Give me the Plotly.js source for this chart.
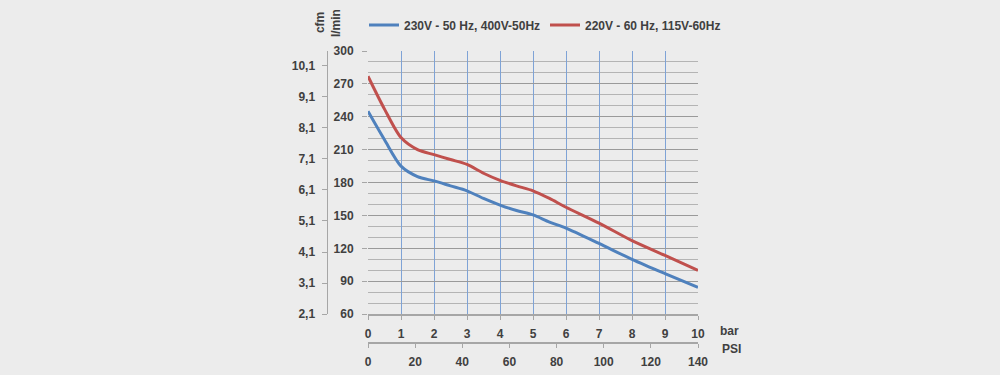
<!DOCTYPE html>
<html>
<head>
<meta charset="utf-8">
<script src="https://cdn.plot.ly/plotly-3.0.1.min.js"></script>
<style>
  html, body { margin: 0; padding: 0; background: #ececec; }
  #chart { width: 1000px; height: 375px; }
</style>
</head>
<body>
<div id="chart"></div>
<script>
// Pressure (bar)
const pressureBar = [0, 0.5, 1, 1.5, 2, 2.5, 3, 3.5, 4, 4.5, 5, 5.5, 6, 7, 8, 9, 10];
// Flow l/min, 230V - 50 Hz, 400V-50Hz
const flow50Hz = [245, 219, 195, 185.5, 181.5, 177, 172.5, 165.5, 159.5, 154.5, 150.5, 144, 138.5, 124.5, 110, 97, 84.5];
// Flow l/min, 220V - 60 Hz, 115V-60Hz
const flow60Hz = [277, 247, 221, 210, 205.5, 201, 196.5, 188.5, 182, 177, 172.5, 165.5, 157.5, 143, 127, 113.5, 100];

const seriesNames = ["230V - 50 Hz, 400V-50Hz", "220V - 60 Hz, 115V-60Hz"];

const barTicks = [0, 1, 2, 3, 4, 5, 6, 7, 8, 9, 10];
const psiTicks = [0, 20, 40, 60, 80, 100, 120, 140];
const lminTicks = [60, 90, 120, 150, 180, 210, 240, 270, 300];
const cfmTickVals = [2.1, 3.1, 4.1, 5.1, 6.1, 7.1, 8.1, 9.1, 10.1];
const cfmTickText = ["2,1", "3,1", "4,1", "5,1", "6,1", "7,1", "8,1", "9,1", "10,1"];
const LMIN_PER_CFM = 28.317;

const txt = "#404040";
const F = "Liberation Sans, Arial, sans-serif";
const tickFont = {family: F, size: 12, color: txt, weight: "bold"};

const traces = [
  {x: pressureBar, y: flow50Hz, name: seriesNames[0], type: "scatter", mode: "lines",
   line: {color: "#4f81bd", width: 3, shape: "spline", smoothing: 0.8}, xaxis: "x", yaxis: "y"},
  {x: pressureBar, y: flow60Hz, name: seriesNames[1], type: "scatter", mode: "lines",
   line: {color: "#c0504d", width: 3, shape: "spline", smoothing: 0.8}, xaxis: "x", yaxis: "y"},
  // carriers so the secondary scales (cfm, PSI) get their own axes
  {x: [0, 1], y: [cfmTickVals[0], cfmTickVals[cfmTickVals.length-1]],
   xaxis: "x3", yaxis: "y2", mode: "lines", opacity: 0, showlegend: false, hoverinfo: "skip"},
  {x: [psiTicks[0], psiTicks[psiTicks.length-1]], y: [0, 1],
   xaxis: "x2", yaxis: "y3", mode: "lines", opacity: 0, showlegend: false, hoverinfo: "skip"}
];

const L = 250, R = 300, T = 50, B = 20, W = 1000, H = 375;
const pw = W - L - R, ph = H - T - B;
const px = v => (v - L) / pw;
const py = v => (H - B - v) / ph;
const PLOT_LEFT = 368, PLOT_RIGHT = 698, PLOT_BOTTOM = 314;
const CFM_LINE = 328, PSI_LINE = 342;

const hidden = {visible: false, fixedrange: true, showgrid: false, zeroline: false};

const layout = {
  width: W, height: H,
  paper_bgcolor: "#ececec", plot_bgcolor: "#ececec",
  margin: {l: L, r: R, t: T, b: B, pad: 0},
  showlegend: true,
  legend: {orientation: "h", x: px(364), xanchor: "left", y: 1 + (T - 25) / ph, yanchor: "middle",
           font: {family: F, size: 12, color: txt, weight: "bold"}, bgcolor: "rgba(0,0,0,0)",
           entrywidth: 136, entrywidthmode: "pixels", itemwidth: 30},
  xaxis: {domain: [px(PLOT_LEFT), px(PLOT_RIGHT)], range: [0, 10], tickmode: "array", tickvals: barTicks, ticktext: barTicks.map(String),
          showgrid: true, gridcolor: "#7fa3d6", gridwidth: 1, zeroline: false,
          showline: true, linecolor: "#a6a6a6", linewidth: 1.5,
          ticks: "outside", ticklen: 4, tickcolor: "#a6a6a6", tickfont: tickFont,
          ticklabelstandoff: 4, anchor: "y", fixedrange: true},
  yaxis: {domain: [py(PLOT_BOTTOM), 1], range: [lminTicks[0], lminTicks[lminTicks.length-1]],
          dtick: lminTicks[1] - lminTicks[0],
          showgrid: true, gridcolor: "#9a9a9a", zeroline: false,
          minor: {dtick: 10, showgrid: true, gridcolor: "#b4b4b4"},
          ticks: "outside", ticklen: 5, tickcolor: "#a6a6a6", tickfont: tickFont,
          ticklabelstandoff: 6, anchor: "x", fixedrange: true},
  // PSI scale: own x axis, anchored to a thin hidden y axis placed at the PSI line
  xaxis2: {domain: [px(PLOT_LEFT), px(PLOT_RIGHT)], range: [psiTicks[0], psiTicks[psiTicks.length-1]],
           tickmode: "array", tickvals: psiTicks, anchor: "y3", side: "bottom",
           showgrid: false, zeroline: false, showline: true, linecolor: "#a6a6a6", linewidth: 1.5,
           ticks: "outside", ticklen: 4, tickcolor: "#a6a6a6", tickfont: tickFont,
           ticklabelstandoff: 4, fixedrange: true},
  yaxis3: Object.assign({domain: [py(PSI_LINE), py(PSI_LINE - 1)], range: [0, 1], anchor: "x2"}, hidden),
  // cfm scale: own y axis, anchored to a thin hidden x axis placed at the cfm line
  yaxis2: {domain: [py(PLOT_BOTTOM), 1], range: [cfmTickVals[0], cfmTickVals[0] + (300 - 60) / LMIN_PER_CFM],
           tickmode: "array", tickvals: cfmTickVals, ticktext: cfmTickText, anchor: "x3", side: "left",
           showgrid: false, zeroline: false, showline: true, linecolor: "#a6a6a6", linewidth: 1.5,
           ticks: "outside", ticklen: 5, tickcolor: "#a6a6a6", tickfont: tickFont,
           ticklabelstandoff: 4, fixedrange: true},
  xaxis3: Object.assign({domain: [px(CFM_LINE), px(CFM_LINE + 1)], range: [0, 1], anchor: "y2"}, hidden),
  annotations: [
    {text: "cfm", xref: "paper", yref: "paper", x: px(320), y: 1 + (T - 22) / ph, textangle: -90,
     showarrow: false, font: {family: F, size: 12, color: txt, weight: "bold"}, xanchor: "center", yanchor: "middle"},
    {text: "l/min", xref: "paper", yref: "paper", x: px(336), y: 1 + (T - 22) / ph, textangle: -90,
     showarrow: false, font: {family: F, size: 12, color: txt, weight: "bold"}, xanchor: "center", yanchor: "middle"},
    {text: "bar", xref: "paper", yref: "paper", x: px(718), y: py(331), xanchor: "left", yanchor: "middle",
     showarrow: false, font: {family: F, size: 12, color: txt, weight: "bold"}},
    {text: "PSI", xref: "paper", yref: "paper", x: px(720), y: py(349), xanchor: "left", yanchor: "middle",
     showarrow: false, font: {family: F, size: 12, color: txt, weight: "bold"}}
  ]
};

Plotly.newPlot("chart", traces, layout, {staticPlot: true, displayModeBar: false});
</script>
</body>
</html>
